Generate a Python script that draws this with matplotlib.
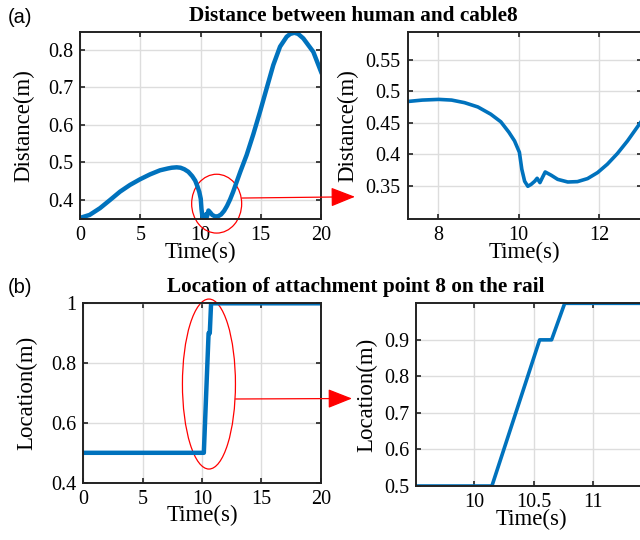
import numpy as np
import matplotlib
matplotlib.use('Agg')
import matplotlib.pyplot as plt
from matplotlib.patches import Ellipse, ConnectionPatch

# distance between human and cable 8
t_dist = [0, 0.8, 1.66, 2.5, 3.32, 4.15, 4.98, 5.8, 6.64, 7.29, 7.61, 8.02,
          8.34, 8.66, 8.99, 9.31, 9.56, 9.76, 9.9, 10.02, 10.08, 10.15, 10.23,
          10.31, 10.4, 10.46, 10.53, 10.59, 10.66, 10.81, 10.97, 11.22, 11.46,
          11.71, 11.96, 12.2, 12.45, 12.7, 12.94, 13.3, 13.83, 14.38, 14.94,
          15.49, 16.04, 16.6, 17.15, 17.45, 17.79, 18.1, 18.53, 19.36, 20]
d_dist = [0.352, 0.36, 0.378, 0.40, 0.422, 0.44, 0.455, 0.468, 0.479, 0.4839,
          0.4859, 0.487, 0.4859, 0.4818, 0.475, 0.4635, 0.4514, 0.4348, 0.421,
          0.403, 0.376, 0.357, 0.349, 0.352, 0.357, 0.3617, 0.3548, 0.3628,
          0.3717, 0.3665, 0.36, 0.3558, 0.3564, 0.3612, 0.3708, 0.384, 0.401,
          0.421, 0.4427, 0.475, 0.52, 0.575, 0.6355, 0.698, 0.76, 0.809, 0.8355,
          0.843, 0.846, 0.843, 0.831, 0.795, 0.742]

# location of attachment point 8 on the rail
t_loc = [0, 10.15, 10.55, 10.65, 10.76, 20]
loc = [0.5, 0.5, 0.9, 0.9, 1.0, 1.0]

blue = '#0072BD'
plt.rcParams['font.family'] = ['Liberation Serif', 'DejaVu Serif']
plt.rcParams['xtick.direction'] = 'in'
plt.rcParams['ytick.direction'] = 'in'
plt.rcParams['xtick.top'] = True
plt.rcParams['ytick.right'] = True
plt.rcParams['xtick.major.size'] = 3.5
plt.rcParams['ytick.major.size'] = 3.5
plt.rcParams['xtick.labelsize'] = 14.5
plt.rcParams['ytick.labelsize'] = 14.5


def style(ax):
    ax.grid(True, color='#dddddd', lw=1.0)
    ax.set_axisbelow(True)
    for s in ax.spines.values():
        s.set_linewidth(1.4)
        s.set_color('#222222')
    ax.tick_params(width=1.2, color='#222222', pad=5)


fig = plt.figure(figsize=(6.4, 5.4), dpi=100)

# (a) left: whole run
ax1 = fig.add_axes([0.125, 0.5944, 0.3766, 0.3463])
ax1.plot(t_dist, d_dist, color=blue, lw=3.2)
ax1.set_xlim(0, 20)
ax1.set_ylim(0.349, 0.848)
ax1.set_xticks([0, 5, 10, 15, 20])
ax1.set_yticks([0.4, 0.5, 0.6, 0.7, 0.8])
ax1.set_xlabel('Time(s)', fontsize=16.5, labelpad=-2.5)
ax1.set_ylabel('Distance(m)', fontsize=16.5, labelpad=10)
style(ax1)

# (a) right: zoom
ax2 = fig.add_axes([0.637, 0.5944, 0.3661, 0.3463])
ax2.plot(t_dist, d_dist, color=blue, lw=2.6)
ax2.set_xlim(7.25, 13.06)
ax2.set_ylim(0.297, 0.594)
ax2.set_xticks([8, 10, 12])
ax2.set_yticks([0.35, 0.4, 0.45, 0.5, 0.55])
ax2.set_yticklabels(['0.35', '0.4', '0.45', '0.5', '0.55'])
ax2.set_xlabel('Time(s)', fontsize=16.5, labelpad=-2.5)
ax2.set_ylabel('Distance(m)', fontsize=16.5, labelpad=5)
style(ax2)

# (b) left: whole run
ax3 = fig.add_axes([0.130, 0.1061, 0.3714, 0.3322])
ax3.plot(t_loc, loc, color=blue, lw=3.2)
ax3.set_xlim(0, 20)
ax3.set_ylim(0.4, 1.0)
ax3.set_xticks([0, 5, 10, 15, 20])
ax3.set_yticks([0.4, 0.6, 0.8, 1.0])
ax3.set_yticklabels(['0.4', '0.6', '0.8', '1'])
ax3.set_xlabel('Time(s)', fontsize=16.5, labelpad=-2.5)
ax3.set_ylabel('Location(m)', fontsize=16.5, labelpad=10)
style(ax3)

# (b) right: zoom
ax4 = fig.add_axes([0.65, 0.1, 0.361, 0.3383])
ax4.plot(t_loc, loc, color=blue, lw=2.6)
ax4.set_xlim(9.514, 11.45)
ax4.set_ylim(0.5, 1.0)
ax4.set_xticks([10, 10.5, 11])
ax4.set_xticklabels(['10', '10.5', '11'])
ax4.set_yticks([0.5, 0.6, 0.7, 0.8, 0.9])
ax4.set_xlabel('Time(s)', fontsize=16.5, labelpad=-2.5)
ax4.set_ylabel('Location(m)', fontsize=16.5, labelpad=5)
style(ax4)

# red ellipses and arrows to the zoomed panels
arrow = '-|>,head_length=1.26,head_width=0.5'
e1 = Ellipse((11.34, 0.39), 4.15, 0.157, fill=False, ec='red', lw=0.9, clip_on=False)
ax1.add_patch(e1)
con1 = ConnectionPatch(xyA=(13.42, 0.405), coordsA=ax1.transData,
                       xyB=(-0.225, 0.119), coordsB=ax2.transAxes,
                       arrowstyle=arrow, color='red', lw=0.9, mutation_scale=12)
fig.add_artist(con1)

e2 = Ellipse((10.58, 0.73), 4.46, 0.5686, fill=False, ec='red', lw=0.9, clip_on=False)
ax3.add_patch(e2)
con2 = ConnectionPatch(xyA=(12.81, 0.68), coordsA=ax3.transData,
                       xyB=(-0.277, 0.479), coordsB=ax4.transAxes,
                       arrowstyle=arrow, color='red', lw=0.9, mutation_scale=12)
fig.add_artist(con2)

# titles and panel letters
fig.text(0.552, 0.970, 'Distance between human and cable8', ha='center', va='center',
         fontsize=15.3, fontweight='bold')
fig.text(0.556, 0.468, 'Location of attachment point 8 on the rail', ha='center',
         va='center', fontsize=15.3, fontweight='bold')
fig.text(0.032, 0.968, '(a)', ha='center', va='center', fontsize=14.5,
         family=['Liberation Sans', 'DejaVu Sans'])
fig.text(0.032, 0.467, '(b)', ha='center', va='center', fontsize=14.5,
         family=['Liberation Sans', 'DejaVu Sans'])

fig.savefig('out.png', dpi=100)
